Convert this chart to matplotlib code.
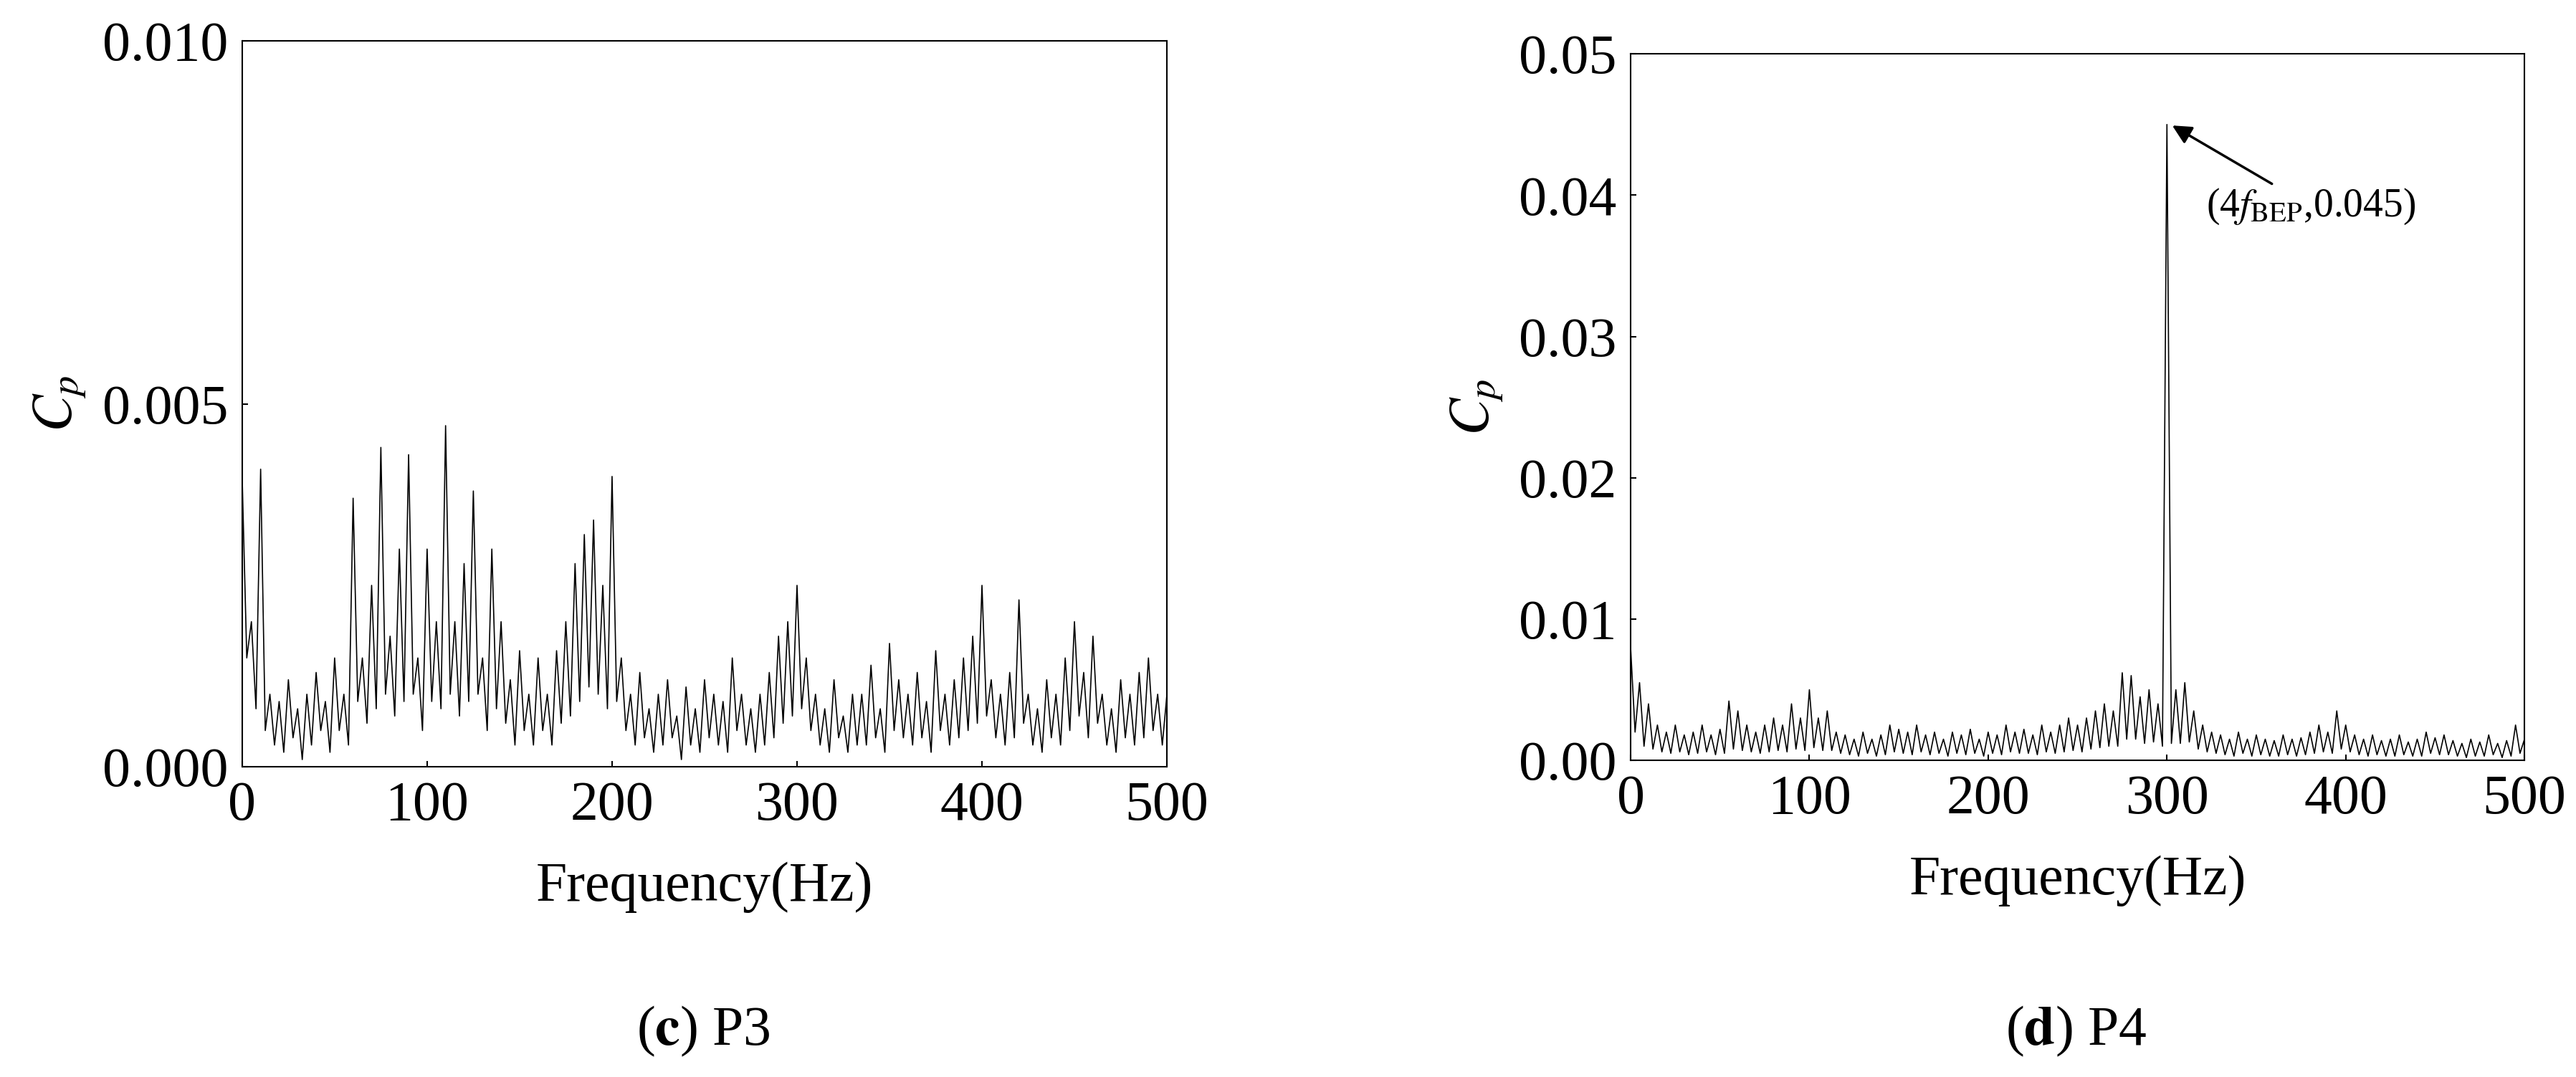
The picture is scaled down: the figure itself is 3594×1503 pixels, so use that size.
import numpy as np
import matplotlib
matplotlib.use("Agg")
import matplotlib.pyplot as plt

plt.rcParams['font.family'] = ['Liberation Serif', 'DejaVu Serif']
plt.rcParams['mathtext.fontset'] = 'stix'

freq_step = 5.0
# Panel (c) P3: local peaks and troughs (x1e-3) every 5 Hz
c_peaks = [4.0,2.0,4.1,1.0,0.9,1.2,0.8,1.0,1.3,0.9,1.5,1.0,3.7,1.5,2.5,4.4,1.8,3.0,4.3,1.5,
           3.0,2.0,4.7,2.0,2.8,3.8,1.5,3.0,2.0,1.2,1.6,1.0,1.5,1.0,1.6,2.0,2.8,3.2,3.4,2.5,
           4.0,1.5,1.0,1.3,0.8,1.0,1.2,0.7,1.1,0.8,1.2,1.0,0.9,1.5,1.0,0.8,1.0,1.3,1.8,2.0,
           2.5,1.5,1.0,0.8,1.2,0.7,1.0,1.0,1.4,0.8,1.7,1.2,1.0,1.3,0.9,1.6,1.0,1.2,1.5,1.8,
           2.5,1.2,1.0,1.3,2.3,1.0,0.8,1.2,1.0,1.5,2.0,1.3,1.8,1.0,0.8,1.2,1.0,1.3,1.5,1.0,1.0]
c_troughs = [1.5,0.8,0.5,0.3,0.2,0.4,0.1,0.3,0.5,0.2,0.5,0.3,0.9,0.6,0.8,1.0,0.7,0.9,1.0,0.5,
             0.9,0.8,1.0,0.7,0.9,1.0,0.5,0.8,0.6,0.3,0.5,0.3,0.5,0.3,0.6,0.7,0.9,1.1,1.0,0.8,
             0.9,0.5,0.3,0.4,0.2,0.3,0.4,0.1,0.3,0.2,0.4,0.3,0.2,0.5,0.3,0.2,0.3,0.4,0.6,0.7,
             0.8,0.5,0.3,0.2,0.4,0.2,0.3,0.3,0.4,0.2,0.5,0.4,0.3,0.4,0.2,0.5,0.3,0.4,0.5,0.6,
             0.7,0.4,0.3,0.4,0.6,0.3,0.2,0.4,0.3,0.5,0.7,0.4,0.6,0.3,0.2,0.4,0.3,0.4,0.5,0.3,0.4]
# Panel (d) P4 (x1e-3)
d_peaks = [8.0,5.5,4.0,2.5,2.0,2.5,1.8,2.0,2.5,1.8,2.2,4.2,3.5,2.5,2.0,2.5,3.0,2.5,4.0,3.0,
           5.0,3.0,3.5,2.0,1.8,1.5,2.0,1.5,1.8,2.5,2.2,2.0,2.5,1.8,2.0,1.5,2.0,1.8,2.2,1.5,
           2.0,1.8,2.5,2.0,2.2,1.8,2.5,2.0,2.5,3.0,2.5,3.0,3.5,4.0,3.5,6.2,6.0,4.5,5.0,4.0,
           45.0,5.0,5.5,3.5,2.5,2.0,1.8,1.5,2.0,1.5,1.8,1.5,1.4,1.8,1.5,1.6,2.0,2.5,2.0,3.5,
           2.5,1.8,1.5,1.8,1.4,1.5,1.8,1.3,1.5,2.0,1.6,1.8,1.4,1.2,1.5,1.3,1.8,1.2,1.4,2.5,1.5]
d_troughs = [2.0,1.0,0.8,0.6,0.5,0.6,0.4,0.5,0.6,0.4,0.5,0.8,0.7,0.6,0.5,0.6,0.7,0.6,0.8,0.7,
             0.9,0.7,0.7,0.5,0.4,0.3,0.5,0.3,0.4,0.6,0.5,0.4,0.6,0.4,0.5,0.3,0.5,0.4,0.5,0.3,
             0.5,0.4,0.6,0.5,0.5,0.4,0.6,0.5,0.6,0.7,0.6,0.8,0.9,1.0,1.0,1.5,1.5,1.2,1.3,1.0,
             1.2,1.2,1.3,0.8,0.6,0.5,0.4,0.3,0.5,0.3,0.4,0.3,0.3,0.4,0.3,0.4,0.5,0.6,0.5,0.8,
             0.6,0.4,0.3,0.4,0.3,0.3,0.4,0.3,0.3,0.5,0.4,0.4,0.3,0.2,0.3,0.3,0.4,0.2,0.3,0.5,0.3]

def series(peaks, troughs):
    p = np.array(peaks) * 1e-3
    t = np.array(troughs) * 1e-3
    f = np.arange(len(p)) * freq_step
    x = np.empty(2 * len(p) - 1); y = np.empty_like(x)
    x[0::2] = f; y[0::2] = p
    x[1::2] = f[:-1] + freq_step / 2; y[1::2] = t[:-1]
    return x, y

fig = plt.figure(figsize=(35.94, 15.03), dpi=100)
fs = 56
axc = fig.add_axes([0.094, 0.288, 0.359, 0.674])
axd = fig.add_axes([0.633, 0.294, 0.347, 0.656])

x, y = series(c_peaks, c_troughs)
axc.plot(x, y, color='black', lw=1.2)
axc.set_ylim(0, 0.010); axc.set_yticks([0, 0.005, 0.010])
axc.set_yticklabels(['0.000', '0.005', '0.010'])

x, y = series(d_peaks, d_troughs)
axd.plot(x, y, color='black', lw=1.2)
axd.set_ylim(0, 0.05); axd.set_yticks([0, 0.01, 0.02, 0.03, 0.04, 0.05])
axd.set_yticklabels(['0.00', '0.01', '0.02', '0.03', '0.04', '0.05'])
axd.annotate(r'(4$f_{\rm BEP}$,0.045)', xy=(302, 0.045), xytext=(322, 0.0385),
             fontsize=40, arrowprops=dict(arrowstyle='-|>', color='black', lw=2.5,
                                          mutation_scale=40))

for ax in (axc, axd):
    ax.set_xlim(0, 500); ax.set_xticks([0, 100, 200, 300, 400, 500])
    ax.tick_params(labelsize=fs, direction='in', length=6, width=1.5, pad=14)
    ax.set_xlabel('Frequency(Hz)', fontsize=fs, labelpad=30)
    ax.set_ylabel(r'$C_p$', fontsize=fs, labelpad=14)
    for s in ax.spines.values():
        s.set_linewidth(1.5)

fig.text(0.273, 0.03, r'($\mathbf{c}$) P3', fontsize=fs, ha='center')
fig.text(0.806, 0.03, r'($\mathbf{d}$) P4', fontsize=fs, ha='center')
fig.savefig('out.png', dpi=100)
